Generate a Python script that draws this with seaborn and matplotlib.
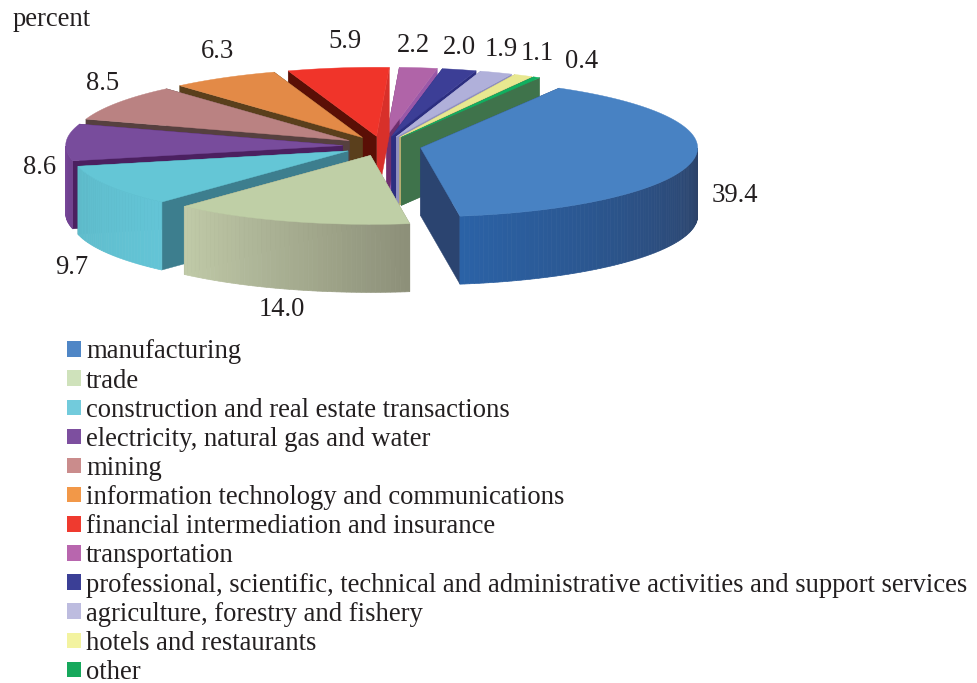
import numpy as np
import matplotlib
matplotlib.use('Agg')
import matplotlib.pyplot as plt
from matplotlib.patches import Polygon, Patch
import seaborn as sns

sns.set_theme(style='white', font='Liberation Serif')

############
# Data
############
categories = ['manufacturing', 'trade', 'construction and real estate transactions',
              'electricity, natural gas and water', 'mining',
              'information technology and communications',
              'financial intermediation and insurance', 'transportation',
              'professional, scientific, technical and administrative activities and support services',
              'agriculture, forestry and fishery', 'hotels and restaurants', 'other']
values = [39.4, 14.0, 9.7, 8.6, 8.5, 6.3, 5.9, 2.2, 2.0, 1.9, 1.1, 0.4]

top_colors = ['#4882c3', '#bfcfa6', '#64c6d6', '#784c9c', '#ba8282', '#e38a47',
              '#f0342a', '#b064a8', '#3c3e96', '#b0b0da', '#e8e890', '#10b060']
legend_colors = ['#4f86c6', '#cfe2bb', '#72cbdc', '#7d4f9f', '#ca8c8c', '#f29848',
                 '#ef3a2f', '#b866ae', '#3b3f96', '#bdbcdf', '#f3f3a0', '#16a85c']
wall_left = ['#2b62a6', '#c0caa8', '#5fbccb', '#7a4a9c', '#8a5f5f', '#8a5a30',
             '#b02a20', '#8a4f85', '#2c2e70', '#8a8ab0', '#b8b870', '#3f7a4e']
wall_right = ['#2c4268', '#8d9079', '#63c4d6', '#6e3f8e', '#8a5f5f', '#8a5a30',
              '#b02a20', '#8a4f85', '#2c2e70', '#8a8ab0', '#b8b870', '#3f7a4e']
# faces of the cut, seen from the right edge and from the left edge of a slice
cut_right = ['#2b4470', '#8d9079', '#3d7e8e', '#4b2060', '#56403f', '#5a3f1c',
             '#d8302a', '#9a58a8', '#2c2e80', '#8f8fc0', '#b5ac70', '#3f734b']
cut_left = ['#2b4470', '#8d9079', '#3d7e8e', '#4b2060', '#56403f', '#5a3f1c',
            '#5a0f06', '#6e2f6e', '#2c2e80', '#8f8fc0', '#b5ac70', '#3f734b']

############
# Parameters
############
RX, RY, DEPTH = 277, 69, 68
CX, CY = 382, 146
EXPLODE = 0.142
START_ANGLE = 60
SIZE = 19.2
# where the value labels sit, in pixels
label_pos = [(735, 196), (282, 310), (72, 268), (40, 168), (103, 84), (217, 51),
             (345, 42), (413, 45), (459, 47), (501, 49), (537, 53), (582, 61)]

fig = plt.figure(figsize=(9.77, 6.83), dpi=100)
ax = fig.add_axes([0, 0, 1, 1])
ax.set_xlim(0, 977)
ax.set_ylim(683, 0)
ax.axis('off')

fractions = np.array(values) / sum(values)
ends = START_ANGLE - np.cumsum(fractions) * 360
starts = ends + fractions * 360
mids = (starts + ends) / 2

# back slices first
order = np.argsort(-np.sin(np.radians(mids)))
for z, i in enumerate(order):
    mid = np.radians(mids[i])
    ax_x = CX + EXPLODE * RX * np.cos(mid)
    ax_y = CY - EXPLODE * RY * np.sin(mid)
    t = np.radians(np.linspace(ends[i], starts[i], max(int(fractions[i] * 360), 2) + 1))
    xs = ax_x + RX * np.cos(t)
    ys = ax_y - RY * np.sin(t)
    base = z * 10

    # the two cut faces
    for j, face in ((0, cut_right[i]), (-1, cut_left[i])):
        quad = [(ax_x, ax_y), (xs[j], ys[j]), (xs[j], ys[j] + DEPTH), (ax_x, ax_y + DEPTH)]
        ax.add_patch(Polygon(quad, fc=face, ec=face, lw=0.3, zorder=base))

    # outer wall as strips, only the part that faces us
    front = [k for k in range(len(t) - 1) if np.sin(t[k]) + np.sin(t[k + 1]) < 0]
    if front:
        shades = sns.blend_palette([wall_left[i], wall_right[i]], len(front))
        for shade, k in zip(shades, front):
            quad = [(xs[k], ys[k]), (xs[k + 1], ys[k + 1]),
                    (xs[k + 1], ys[k + 1] + DEPTH), (xs[k], ys[k] + DEPTH)]
            ax.add_patch(Polygon(quad, fc=shade, ec=shade, lw=0.5, zorder=base + 1))

    top = [(ax_x, ax_y)] + list(zip(xs, ys))
    ax.add_patch(Polygon(top, fc=top_colors[i], ec=top_colors[i], lw=0.3, zorder=base + 2))

for val, (x, y) in zip(values, label_pos):
    ax.text(x, y, f'{val:.1f}', ha='center', va='center', fontsize=SIZE, color='#231f20', zorder=500)

ax.text(13, 20, 'percent', ha='left', va='center', fontsize=SIZE, color='#231f20')

handles = [Patch(fc=c, ec='none', label=l) for c, l in zip(legend_colors, categories)]
ax.legend(handles=handles, loc='upper left', bbox_to_anchor=(67 / 977, 1 - 339.5 / 683),
          frameon=False, fontsize=SIZE, labelcolor='#231f20', handlelength=0.52,
          handleheight=0.52, handletextpad=0.19, labelspacing=0.155, borderaxespad=0,
          borderpad=0)

fig.savefig('out.png', dpi=100)
